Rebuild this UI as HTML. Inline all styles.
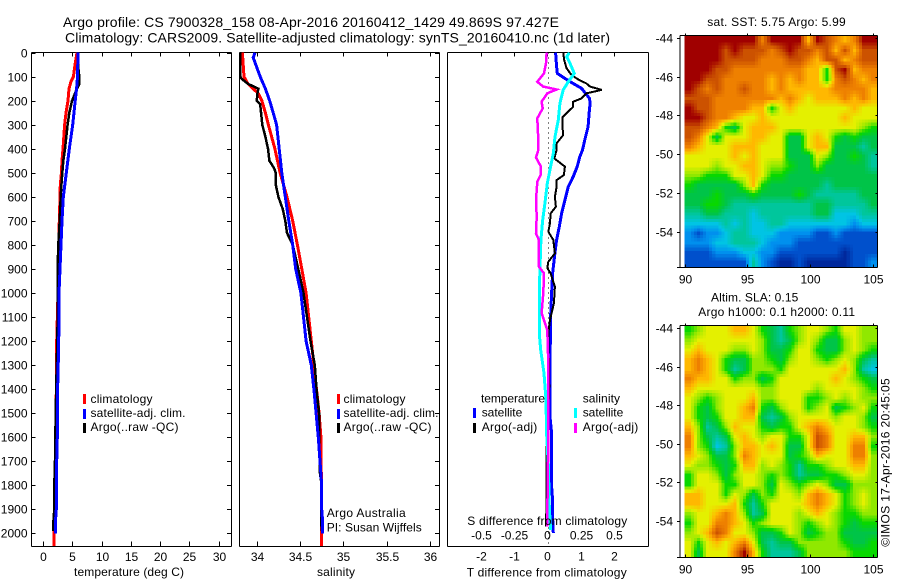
<!DOCTYPE html>
<html lang="en">
<head>
<meta charset="utf-8">
<title>Argo profile 7900328_158</title>
<style>
html,body{margin:0;padding:0;background:#fff;}
svg{display:block;font-family:"Liberation Sans",sans-serif;fill:#000;}
text{font-size:12px;fill:#000;}
.t14{font-size:14px;}
</style>
</head>
<body>
<svg id="chart" xmlns="http://www.w3.org/2000/svg" width="900" height="580" viewBox="0 0 900 580">
  <text class="t14" x="63" y="27" textLength="496" lengthAdjust="spacing">Argo profile: CS 7900328_158 08-Apr-2016 20160412_1429 49.869S 97.427E</text>
  <text class="t14" x="65" y="42.5" textLength="545" lengthAdjust="spacing">Climatology: CARS2009. Satellite-adjusted climatology: synTS_20160410.nc (1d later)</text>

  <g id="heatmaps"></g>
  <g id="profiles"></g>

  <text x="74" y="576" textLength="110" lengthAdjust="spacing">temperature (deg C)</text>
  <text x="317" y="576" textLength="38" lengthAdjust="spacing">salinity</text>
  <text x="467.3" y="525" textLength="160" lengthAdjust="spacing">S difference from climatology</text>
  <text x="466.7" y="576.5" textLength="160" lengthAdjust="spacing">T difference from climatology</text>

  <g>
    <rect x="83" y="394" width="3" height="10" fill="#f00"/>
    <text x="90.5" y="403" textLength="62" lengthAdjust="spacing">climatology</text>
    <rect x="83" y="409" width="3" height="10" fill="#00f"/>
    <text x="90.5" y="417" textLength="95" lengthAdjust="spacing">satellite-adj. clim.</text>
    <rect x="83" y="423" width="3" height="10" fill="#000"/>
    <text x="90.5" y="431" textLength="88" lengthAdjust="spacing">Argo(..raw -QC)</text>
  </g>
  <g>
    <rect x="337" y="394" width="3" height="10" fill="#f00"/>
    <text x="343.5" y="403" textLength="62" lengthAdjust="spacing">climatology</text>
    <rect x="337" y="409" width="3" height="10" fill="#00f"/>
    <text x="343.5" y="417" textLength="95" lengthAdjust="spacing">satellite-adj. clim.</text>
    <rect x="337" y="423" width="3" height="10" fill="#000"/>
    <text x="343.5" y="431" textLength="88" lengthAdjust="spacing">Argo(..raw -QC)</text>
  </g>
  <text x="326.7" y="517" textLength="79" lengthAdjust="spacing">Argo Australia</text>
  <text x="326.7" y="531.5" textLength="95" lengthAdjust="spacing">PI: Susan Wijffels</text>

  <g>
    <text x="481" y="402.7" textLength="64" lengthAdjust="spacing">temperature</text>
    <rect x="473" y="408" width="3" height="10" fill="#00f"/>
    <text x="481.7" y="416.7" textLength="40.6" lengthAdjust="spacing">satellite</text>
    <rect x="473" y="423" width="3" height="10" fill="#000"/>
    <text x="481.7" y="431" textLength="55.6" lengthAdjust="spacing">Argo(-adj)</text>
    <text x="582.7" y="402.7" textLength="37.3" lengthAdjust="spacing">salinity</text>
    <rect x="574" y="408" width="3" height="10" fill="#0ff"/>
    <text x="582.7" y="416.7" textLength="40.6" lengthAdjust="spacing">satellite</text>
    <rect x="574" y="423" width="3" height="10" fill="#f0f"/>
    <text x="582.7" y="431" textLength="55.6" lengthAdjust="spacing">Argo(-adj)</text>
  </g>

  <text x="707.3" y="26" textLength="138.4" lengthAdjust="spacing">sat. SST: 5.75 Argo: 5.99</text>
  <text x="711" y="301.7" textLength="87.3" lengthAdjust="spacing">Altim. SLA: 0.15</text>
  <text x="698.3" y="316" textLength="156.7" lengthAdjust="spacing">Argo h1000: 0.1 h2000: 0.11</text>
  <text transform="translate(889.3 546.7) rotate(-90)" x="0" y="0" textLength="168.4" lengthAdjust="spacing">©IMOS 17-Apr-2016 20:45:05</text>
</svg>

<script>
// ---- tick labels ----
const depthTicks = [0,100,200,300,400,500,600,700,800,900,1000,1100,1200,1300,1400,1500,1600,1700,1800,1900,2000];
const tempTicks = [0,5,10,15,20,25,30];
const salinityTicks = [34,34.5,35,35.5,36];
const tDiffTicks = [-2,-1,0,1,2];
const sDiffTicks = [-0.5,-0.25,0,0.25,0.5];
const lonTicks = [90,95,100,105];
const latTicks = [-44,-46,-48,-50,-52,-54];

// ---- temperature profiles (depth dbar, deg C) ----
const tempClimDepth = [0,50,100,120,150,200,250,300,400,450,500,550,600,700,800,900,1000,1200,1600,1990,2052];
const tempClimValue = [5.81,5.47,5.19,4.79,4.44,4.27,3.93,3.7,3.42,3.25,3.14,2.96,2.9,2.79,2.68,2.56,2.56,2.34,2.2,1.88,1.88];
const tempSatDepth = [0,100,150,200,300,400,500,600,700,800,900,1000,1100,1200,1300,1400,1600,1700,1800,1900,1960,2000];
const tempSatValue = [5.98,5.9,5.75,5.5,5.07,4.5,3.99,3.47,3.25,3.08,2.9,2.74,2.74,2.68,2.6,2.5,2.45,2.34,2.34,2.28,2.1,2.1];
const tempArgoDepth = [0,50,100,130,150,200,250,300,350,400,450,500,550,600,700,800,900,1000,1200,1300,1500,1700,1800,1900,1950,1990];
const tempArgoValue = [5.98,5.98,6.2,6.2,5.8,4.96,4.5,4.2,3.99,3.76,3.47,3.3,3.14,3.03,2.85,2.62,2.5,2.56,2.45,2.34,2.17,2.05,1.94,1.94,1.77,1.77];

// ---- salinity profiles ----
const salClimDepth = [0,100,130,150,170,200,250,300,400,500,600,700,800,900,1000,1100,1200,1300,1400,1500,1600,1700,1800,2052];
const salClimValue = [33.835,33.854,33.9,33.96,34.02,34.06,34.1,34.135,34.21,34.27,34.35,34.415,34.47,34.52,34.57,34.6,34.63,34.66,34.69,34.72,34.74,34.74,34.75,34.75];
const salSatDepth = [0,20,50,100,150,200,250,300,400,500,600,700,800,900,1000,1100,1200,1300,1400,1500,1600,1700,1800,1900,1950,2000];
const salSatValue = [33.98,33.96,33.99,34.04,34.1,34.15,34.19,34.23,34.26,34.29,34.33,34.37,34.415,34.45,34.51,34.54,34.57,34.63,34.66,34.685,34.71,34.73,34.75,34.75,34.76,34.76];
const salArgoDepth = [0,100,110,130,150,165,200,215,300,350,400,450,480,500,550,600,650,700,750,800,900,1000,1100,1200,1300,1400,1500,1600,1750,1800,1950,1990];
const salArgoValue = [33.81,33.81,33.83,33.9,34.02,34.01,34.0,34.04,34.065,34.1,34.13,34.146,34.2,34.22,34.22,34.25,34.3,34.33,34.35,34.415,34.48,34.54,34.58,34.62,34.67,34.69,34.72,34.72,34.73,34.75,34.745,34.75];

// ---- difference profiles ----
const dTSatDepth = [0,58,86,107,128,148,190,211,252,308,363,405,433,474,516,558,613,669,724,779,835,918,1001,1098,1306,1515,1584,1722,1806,1861,1930,1999];
const dTSatValue = [.25,.28,.30,.53,.78,1.03,1.27,1.29,1.26,1.23,1.13,1.06,.98,.90,.78,.63,.53,.43,.36,.28,.23,.16,.13,.10,.08,.08,.13,.13,.13,.16,.16,.18];
const dTArgoDepth = [0,31,65,93,111,128,141,155,169,190,204,225,245,269,315,343,377,405,440,474,509,530,558,600,641,669,710,745,779,835,870,897,918,974,1043,1112,1168,1390,1653,1861,1958,1972];
const dTArgoValue = [.48,.51,.58,.73,.93,1.18,1.29,1.64,1.18,1.03,.78,.78,.63,.46,.46,.48,.28,.28,.21,.53,.50,.28,.28,.23,.26,.10,.08,.03,.18,.23,.03,0,.10,.23,.20,.08,.03,.06,-.02,-.02,-.04,-.04];
const dSSatDepth = [0,17,44,86,121,155,211,280,350,419,474,544,627,696,779,890,1001,1168,1237,1334,1445,1584,1722,1889,1986];
const dSSatValue = [.166,.146,.171,.203,.158,.12,.095,.083,.058,.045,.025,0,-.018,-.035,-.048,-.055,-.06,-.06,-.05,-.025,-.01,-.005,.008,.015,.025];
const dSArgoDepth = [0,44,86,121,141,153,169,204,232,273,363,405,436,474,509,537,613,682,752,779,890,918,1001,1084,1154,1306,1584,1917,1972];
const dSArgoValue = [-.005,-.01,-.025,-.075,-.03,.07,0,-.043,-.035,-.075,-.068,-.068,-.085,-.048,-.05,-.075,-.085,-.08,-.085,-.063,-.063,-.025,-.03,-.043,0,.008,.008,0,0];

// ---- map values: colour level per cell, north to south, west to east ----
const sstLevels = [
[12,12,12,12,12,12,12,12,10,12,12,12,12,9,12,11,10,9,10,12,12],
[12,12,12,12,11,12,11,11,11,10,11,12,11,11,10,11,9,11,9,11,11],
[12,12,12,12,11,11,11,11,10,10,10,11,11,10,9,11,11,9,10,11,11],
[12,12,12,11,11,10,10,10,10,10,10,10,10,9,9,6,11,12,9,10,10],
[12,12,11,11,10,10,10,10,10,9,10,9,10,9,9,6,10,11,10,9,10],
[12,11,10,11,10,10,11,10,10,9,10,9,9,9,9,9,10,10,10,10,9],
[11,11,11,10,10,10,10,10,10,10,9,10,9,8,9,9,9,10,9,10,9],
[12,11,11,10,10,10,10,9,9,6,8,9,8,8,8,8,8,8,9,8,8],
[12,12,11,10,10,9,8,8,9,8,8,8,8,8,8,8,8,9,8,8,8],
[11,11,10,9,6,5,8,9,9,9,8,8,8,8,8,8,8,8,8,7,6],
[11,10,8,5,8,8,8,9,9,8,8,5,5,8,9,8,6,5,6,5,5],
[10,9,8,8,8,9,9,9,8,8,8,5,5,8,9,9,5,5,5,4,5],
[8,8,8,8,8,9,8,9,8,8,8,5,5,5,8,7,5,5,6,5,4],
[8,8,8,7,8,8,9,9,8,7,7,6,5,5,7,5,5,5,5,5,4],
[7,7,6,6,6,8,8,9,8,6,6,5,5,5,5,5,5,5,5,5,5],
[6,5,5,5,5,5,7,9,6,5,5,5,5,5,5,4,5,5,5,5,5],
[5,5,5,6,5,5,5,6,5,5,5,5,6,5,4,4,4,4,4,5,5],
[5,5,6,6,5,4,4,4,4,4,4,4,4,4,5,5,4,4,4,4,5],
[4,4,5,5,4,4,4,3,4,4,4,4,4,4,5,5,3,3,3,4,4],
[3,3,3,3,4,3,4,3,3,4,4,3,3,3,3,3,3,3,2,3,3],
[2,1,2,2,3,4,4,3,3,3,2,2,2,2,1,1,2,1,1,1,1],
[2,2,2,3,3,4,4,4,3,2,2,2,1,1,1,1,1,1,1,1,1],
[1,1,1,2,2,2,3,3,2,2,1,1,1,1,1,1,1,0,1,1,1],
[1,1,1,1,1,1,1,4,2,1,0,0,1,0,0,0,0,0,1,1,2]
];
const slaLevels = [
[6,7,8,8,8,9,9,8,6,5,4,6,7,8,8,7,6,8,8,7,7],
[7,8,8,8,8,8,8,8,7,5,4,5,7,8,7,5,5,7,8,7,7],
[8,9,8,8,8,7,7,8,7,5,5,6,8,8,6,5,5,7,8,7,6],
[9,10,9,8,6,5,5,7,7,6,5,7,8,8,7,6,7,8,7,5,4],
[9,10,9,8,6,4,5,7,7,7,6,8,8,8,8,8,8,9,7,4,3],
[10,9,9,8,8,6,7,7,5,6,8,8,8,8,8,8,9,8,7,6,5],
[9,8,8,8,8,8,8,8,7,7,8,8,8,8,7,8,8,8,8,7,6],
[8,7,6,7,8,8,8,9,7,7,8,8,8,6,6,7,8,7,8,7,7],
[8,6,5,7,8,8,9,10,6,5,7,8,8,6,7,8,5,6,7,8,6],
[8,6,5,6,8,8,9,9,5,4,5,7,8,8,8,8,7,8,8,7,5],
[9,7,4,5,7,9,8,8,6,5,6,6,8,9,10,9,8,8,8,7,6],
[10,7,5,4,5,8,9,8,7,8,8,6,6,8,11,10,8,8,9,9,7],
[10,7,6,3,4,7,9,9,8,9,8,5,5,8,11,10,8,8,10,10,6],
[9,8,7,5,5,7,10,9,8,8,8,5,6,7,9,8,8,8,10,10,7],
[8,7,7,6,5,6,9,9,7,8,7,6,4,6,6,7,8,8,9,9,7],
[6,8,8,7,5,7,8,8,7,6,7,6,4,5,5,6,6,7,8,8,7],
[6,8,8,8,6,6,8,8,7,5,8,7,6,7,8,7,5,5,7,7,7],
[9,9,8,8,6,8,7,5,7,6,8,8,7,9,10,9,8,6,7,8,7],
[9,9,8,8,8,9,6,4,6,8,8,8,8,9,10,9,8,6,7,8,7],
[7,8,8,9,10,9,7,4,5,8,8,8,7,8,9,8,7,6,6,7,7],
[6,8,8,10,10,9,8,6,7,8,8,8,7,6,7,8,7,6,5,6,6],
[7,8,9,11,10,8,8,7,5,5,6,8,7,5,6,7,7,5,5,5,5],
[8,6,8,9,8,9,10,8,5,4,5,5,7,7,7,7,7,6,5,5,6],
[8,5,8,8,8,10,12,9,6,4,4,4,5,7,7,7,7,7,6,6,6]
];

// ---- rendering ----
const NS = 'http://www.w3.org/2000/svg';
const palette = [[0,40,156],[0,80,204],[0,144,238],[0,196,228],[0,198,156],[0,196,72],[8,216,0],[144,232,0],[228,240,0],[255,184,0],[238,128,0],[204,82,0],[160,0,0]];
const SUB = 3; // sub-cells drawn per map value, shaded between neighbouring values

const depthY = d => 52.7 + 0.2403 * d;
const tempX = t => 43 + 5.85 * t;
const salX = s => 256.7 + 86.7 * (s - 34);
const dTX = t => 547.3 + 33.2 * t;
const dSX = s => 547.3 + 132.8 * s;

const profiles = document.getElementById('profiles');
const heatmaps = document.getElementById('heatmaps');

function shape(parent, tag) {
  const el = document.createElementNS(NS, tag);
  parent.appendChild(el);
  return el;
}
function seg(parent, x1, y1, x2, y2, name) {
  const el = shape(parent, 'line');
  
  
  el.setAttribute('x1', x1); el.setAttribute('y1', y1);
  el.setAttribute('x2', x2); el.setAttribute('y2', y2);
  el.setAttribute('stroke', '#000');
  el.setAttribute('stroke-width', 1);
  el.setAttribute('shape-rendering', 'crispEdges');
  return el;
}
function label(parent, x, y, txt, anchor, name) {
  const el = shape(parent, 'text');
  
  
  el.setAttribute('x', x); el.setAttribute('y', y);
  el.setAttribute('text-anchor', anchor);
  el.textContent = txt;
  return el;
}
function profile(parent, depths, values, xFn, color, width, name) {
  const el = shape(parent, 'polyline');
  
  
  el.setAttribute('points', depths.map((d, i) => xFn(values[i]).toFixed(1) + ',' + depthY(d).toFixed(1)).join(' '));
  el.setAttribute('fill', 'none');
  el.setAttribute('stroke', color);
  el.setAttribute('stroke-width', width);
  el.setAttribute('shape-rendering', 'crispEdges');
  return el;
}

const top_ = 52.5, bottom_ = 546.5;

// temperature panel
const p1 = shape(profiles, 'g');


seg(p1, 31.5, top_, 231.5, top_, 'temperature-top-border');
seg(p1, 31.5, bottom_, 231.5, bottom_, 'temperature-x-axis');
seg(p1, 31.5, top_, 31.5, bottom_, 'depth-axis');
seg(p1, 231.5, top_, 231.5, bottom_, 'temperature-right-border');
depthTicks.forEach(d => {
  const y = Math.round(depthY(d)) + 0.5;
  seg(p1, 31.5, y, 35.5, y, 'depth-tick');
  seg(p1, 227, y, 231.5, y, 'depth-tick-right');
  label(p1, 27.5, y + 4, String(d), 'end', 'depth-tick-label');
});
tempTicks.forEach(t => {
  const x = Math.round(tempX(t)) + 0.5;
  seg(p1, x, top_, x, top_ + 4, 'temperature-tick-top');
  seg(p1, x, bottom_ - 5, x, bottom_, 'temperature-tick');
  label(p1, x, 561, String(t), 'middle', 'temperature-tick-label');
});
profile(p1, tempClimDepth, tempClimValue, tempX, '#f00', 3, 'temperature-climatology-line');
profile(p1, tempArgoDepth, tempArgoValue, tempX, '#000', 2.5, 'temperature-argo-line');
profile(p1, tempSatDepth, tempSatValue, tempX, '#00f', 3, 'temperature-satellite-line');

// salinity panel
const p2 = shape(profiles, 'g');


seg(p2, 239.5, top_, 439.5, top_, 'salinity-top-border');
seg(p2, 239.5, bottom_, 439.5, bottom_, 'salinity-x-axis');
seg(p2, 239.5, top_, 239.5, bottom_, 'salinity-left-border');
seg(p2, 439.5, top_, 439.5, bottom_, 'salinity-right-border');
depthTicks.forEach(d => {
  const y = Math.round(depthY(d)) + 0.5;
  seg(p2, 435, y, 439.5, y, 'salinity-depth-tick');
});
salinityTicks.forEach(s => {
  const x = Math.round(salX(s)) + 0.5;
  seg(p2, x, top_, x, top_ + 4, 'salinity-tick-top');
  seg(p2, x, bottom_ - 5, x, bottom_, 'salinity-tick');
  label(p2, x, 561, String(s), 'middle', 'salinity-tick-label');
});
profile(p2, salClimDepth, salClimValue, salX, '#f00', 3, 'salinity-climatology-line');
profile(p2, salArgoDepth, salArgoValue, salX, '#000', 2.5, 'salinity-argo-line');
profile(p2, salSatDepth, salSatValue, salX, '#00f', 3, 'salinity-satellite-line');

// difference panel
const p3 = shape(profiles, 'g');


seg(p3, 447.5, top_, 648.5, top_, 'difference-top-border');
seg(p3, 447.5, bottom_, 648.5, bottom_, 'difference-x-axis');
seg(p3, 447.5, top_, 447.5, bottom_, 'difference-left-border');
seg(p3, 648.5, top_, 648.5, bottom_, 'difference-right-border');
const zero = seg(p3, 548.5, top_, 548.5, bottom_, 'zero-difference-line');
zero.setAttribute('stroke-dasharray', '1 4');
tDiffTicks.forEach(t => {
  const x = Math.round(dTX(t)) + 0.5;
  seg(p3, x, top_, x, top_ + 4, 't-difference-tick');
  label(p3, x, 560.5, String(t), 'middle', 't-difference-tick-label');
});
sDiffTicks.forEach(s => {
  const x = Math.round(dSX(s)) + 0.5;
  label(p3, x, 539.5, String(s), 'middle', 's-difference-tick-label');
});
profile(p3, dTSatDepth, dTSatValue, dTX, '#00f', 3, 't-difference-satellite-line');
profile(p3, dTArgoDepth, dTArgoValue, dTX, '#000', 2, 't-difference-argo-line');
profile(p3, dSSatDepth, dSSatValue, dSX, '#0ff', 3, 's-difference-satellite-line');
profile(p3, dSArgoDepth, dSArgoValue, dSX, '#f0f', 2.5, 's-difference-argo-line');

// maps
function levelColor(v) {
  const t = Math.max(0, Math.min(palette.length - 1, v));
  const i = Math.min(palette.length - 2, Math.floor(t));
  const f = t - i;
  const a = palette[i], b = palette[i + 1];
  return 'rgb(' + a.map((ch, k) => Math.round(ch + (b[k] - ch) * f)).join(',') + ')';
}
function sampleLevel(levels, rowPos, colPos) {
  const rr = Math.max(0, Math.min(levels.length - 1, rowPos));
  const cc = Math.max(0, Math.min(levels[0].length - 1, colPos));
  const r0 = Math.floor(rr), c0 = Math.floor(cc);
  const r1 = Math.min(levels.length - 1, r0 + 1), c1 = Math.min(levels[0].length - 1, c0 + 1);
  const fr = rr - r0, fc = cc - c0;
  return (levels[r0][c0] * (1 - fc) + levels[r0][c1] * fc) * (1 - fr) +
         (levels[r1][c0] * (1 - fc) + levels[r1][c1] * fc) * fr;
}
function drawMap(levels, name, frameTop, frameBottom, lat44Y, pxPerDeg, topLat, latStep, lonStep) {
  const lonX = lon => 684.7 + 12.53 * (lon - 90);
  const latY = lat => lat44Y + pxPerDeg * (-44 - lat);
  const g = shape(heatmaps, 'g');
  
  
  const rows = levels.length * SUB, cols = levels[0].length * SUB;
  for (let r = 0; r < rows; r++) {
    for (let c = 0; c < cols; c++) {
      const v = sampleLevel(levels, (r + 0.5) / SUB - 0.5, (c + 0.5) / SUB - 0.5);
      const cell = shape(g, 'rect');
      
      
      const x0 = lonX(90 + c * lonStep / SUB), x1 = lonX(90 + (c + 1) * lonStep / SUB);
      const y0 = latY(topLat - r * latStep / SUB), y1 = latY(topLat - (r + 1) * latStep / SUB);
      cell.setAttribute('x', x0.toFixed(1));
      cell.setAttribute('y', y0.toFixed(1));
      cell.setAttribute('width', (x1 - x0 + 0.4).toFixed(1));
      cell.setAttribute('height', (y1 - y0 + 0.4).toFixed(1));
      cell.setAttribute('fill', levelColor(v));
      cell.setAttribute('shape-rendering', 'crispEdges');
    }
  }
  const L = 680, R = 877.5;
  seg(g, L, frameTop, R, frameTop, name + '-top-border');
  seg(g, L, frameBottom, R, frameBottom, name + '-x-axis');
  seg(g, L, frameTop, L, frameBottom, name + '-y-axis');
  seg(g, R, frameTop, R, frameBottom, name + '-right-border');
  lonTicks.forEach(lon => {
    const x = Math.round(lonX(lon)) + 0.5;
    seg(g, x, frameTop - 2, x, frameTop, name + '-lon-tick-top');
    seg(g, x, frameBottom - 3, x, frameBottom, name + '-lon-tick');
    label(g, x, frameBottom + 16, String(lon), 'middle', name + '-lon-label');
  });
  latTicks.forEach(lat => {
    const y = Math.round(latY(lat)) + 0.5;
    seg(g, L - 3, y, L, y, name + '-lat-tick');
    seg(g, R - 2, y, R, y, name + '-lat-tick-right');
    label(g, 673, y + 4, String(lat), 'end', name + '-lat-label');
  });
  seg(g, L - 3, frameBottom, L, frameBottom, name + '-lat-tick-end');
}
drawMap(sstLevels, 'sst-map', 35.5, 267.5, 38, 19.37, -43.9, 0.4967, 0.7319);
drawMap(slaLevels, 'sla-map', 325.5, 557.5, 328.3, 19.27, -43.87, 0.5, 0.7319);
</script>
</body>
</html>
